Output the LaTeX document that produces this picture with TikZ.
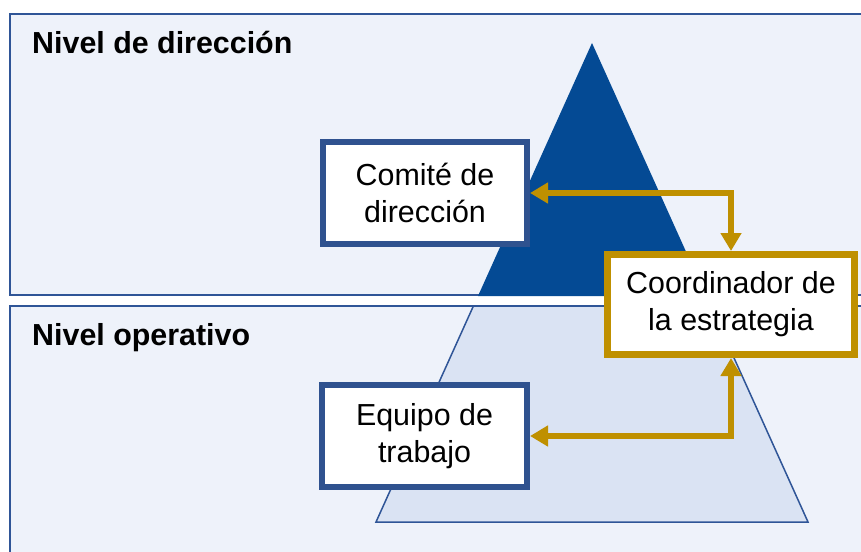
\documentclass[tikz,border=0pt]{standalone}
\usepackage{fontspec}
\setmainfont{Liberation Sans}
\usetikzlibrary{arrows.meta}
\definecolor{panelfill}{HTML}{EEF2FA}
\definecolor{panelline}{HTML}{2F5597}
\definecolor{darktri}{HTML}{044A94}
\definecolor{lighttri}{HTML}{DAE3F3}
\definecolor{boxblue}{HTML}{2F528F}
\definecolor{goldline}{HTML}{BF9000}
\begin{document}
\begin{tikzpicture}[x=1pt,y=-1pt,
  panel/.style={fill=panelfill, draw=panelline, line width=2pt},
  titletext/.style={anchor=base west, inner sep=0pt, font=\fontsize{30.4}{36}\selectfont\bfseries},
  boxtext/.style={fill=white, align=center, inner sep=0pt, font=\fontsize{30.4}{37}\selectfont},
  bluebox/.style={boxtext, draw=boxblue, line width=6pt},
  goldbox/.style={boxtext, draw=goldline, line width=7pt},
  link/.style={draw=goldline, line width=5.5pt,
    {Triangle[length=18pt,width=20pt]}-{Triangle[length=18pt,width=20pt]}}
]
\useasboundingbox (0,0) rectangle (861,551);
\clip (0,0) rectangle (861,551);
\fill[white] (0,0) rectangle (861,551);
% panels
\draw[panel] (10,14) rectangle (880,295);
\draw[panel] (10,306) rectangle (880,570);
% pyramid
\fill[darktri] (592,43) -- (706,296) -- (478,296) -- cycle;
\draw[fill=lighttri, draw=panelline, line width=1.5pt, line join=miter]
  (473.4,306) -- (710.6,306) -- (808,522) -- (376,522) -- cycle;
% titles
\node[titletext] (t1) at (32,53) {Nivel de dirección};
\node[titletext] (t2) at (32,345) {Nivel operativo};
% boxes
\node[bluebox, minimum width=204pt, minimum height=102pt] (comite) at (425,193) {Comité de\\dirección};
\node[bluebox, minimum width=205pt, minimum height=102pt] (equipo) at (424.5,436) {Equipo de\\trabajo};
\node[goldbox, minimum width=247pt, minimum height=100pt] (coord) at (731,304.5) {Coordinador de\\la estrategia};
% connectors
\draw[link] (comite.east) -| (coord.north);
\draw[link] (equipo.east) -| (coord.south);
\end{tikzpicture}
\end{document}
